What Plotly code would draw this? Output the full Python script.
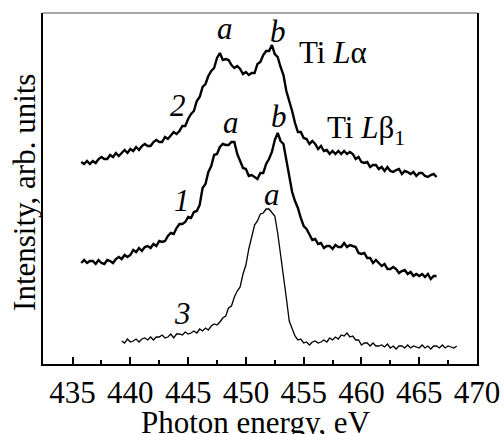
import numpy as np
import plotly.graph_objects as go

# Energy grids (eV)
energy_12 = np.arange(435.75, 466.5001, 0.25)
energy_3 = np.arange(439.25, 468.2501, 0.25)

# Curve 2 (Ti L-alpha, top), arb. units
curve2 = [202, 200, 203, 200, 203, 201, 205, 207, 205, 205,
          209, 207, 211, 208, 211, 214, 211, 215, 213, 217,
          214, 218, 220, 218, 218, 222, 224, 222, 222, 227,
          225, 229, 232, 230, 233, 238, 238, 245, 250, 253,
          263, 267, 277, 280, 288, 293, 296, 306, 311, 304,
          305, 304, 299, 296, 298, 295, 290, 292, 289, 291,
          291, 300, 302, 309, 313, 313, 319, 310, 307, 297,
          289, 273, 264, 253, 241, 232, 232, 226, 225, 220,
          223, 220, 215, 218, 213, 214, 210, 213, 210, 213,
          210, 213, 210, 212, 210, 205, 207, 202, 201, 202,
          197, 199, 199, 195, 197, 193, 197, 193, 192, 194,
          195, 190, 193, 192, 190, 192, 188, 191, 191, 188,
          187, 189, 190, 187]

# Curve 1 (Ti L-beta1, middle)
curve1 = [101, 104, 101, 103, 103, 100, 104, 101, 100, 104,
          103, 101, 105, 107, 105, 109, 107, 109, 114, 112,
          116, 113, 117, 118, 116, 120, 118, 123, 122, 123,
          128, 131, 130, 136, 140, 140, 142, 147, 146, 152,
          153, 159, 176, 180, 192, 198, 209, 210, 217, 220,
          219, 219, 222, 222, 210, 203, 196, 195, 188, 189,
          187, 185, 191, 191, 200, 205, 212, 224, 231, 223,
          220, 204, 192, 172, 163, 156, 146, 138, 135, 130,
          124, 125, 120, 121, 116, 118, 118, 115, 119, 117,
          117, 121, 117, 119, 118, 117, 111, 110, 111, 106,
          106, 101, 104, 101, 98, 100, 95, 95, 97, 95,
          91, 93, 94, 90, 92, 88, 90, 88, 90, 87,
          90, 85, 88, 88]

# Curve 3 (bottom)
curve3 = [23, 21, 25, 22, 23, 25, 22, 25, 26, 24, 27, 24, 27, 27, 29, 26, 27, 30, 26, 30,
          30, 29, 32, 30, 31, 33, 31, 35, 33, 36, 34, 38, 40, 39, 42, 46, 48, 56, 58, 67,
          73, 77, 90, 99, 115, 127, 139, 143, 150, 151, 155, 155, 152, 148, 131, 111, 87, 66, 43, 35,
          28, 24, 25, 21, 22, 19, 22, 23, 21, 22, 24, 22, 26, 24, 27, 25, 29, 28, 31, 27,
          28, 24, 24, 19, 21, 21, 18, 21, 18, 18, 19, 17, 20, 16, 18, 15, 18, 18, 16, 19,
          16, 18, 17, 16, 19, 16, 18, 15, 18, 18, 16, 19, 16, 18, 17, 16, 18]

x_ticks = [435, 440, 445, 450, 455, 460, 465, 470]

# Labels: (text, x, y)
labels = [
    ("<i>a</i>", 448.15, 336),
    ("<i>b</i>", 452.8, 333),
    ("Ti <i>L</i>α", 457.5, 312),
    ("<i>2</i>", 444.1, 259),
    ("<i>a</i>", 448.75, 242),
    ("<i>b</i>", 452.9, 248),
    ("Ti <i>L</i>β<sub>1</sub>", 460.4, 234),
    ("<i>1</i>", 444.45, 164),
    ("<i>a</i>", 452.3, 170),
    ("<i>3</i>", 444.55, 51),
]

x_title = "Photon energy, eV"
y_title = "Intensity, arb. units"

FONT = "Liberation Serif"

fig = go.Figure()
fig.add_trace(go.Scatter(x=energy_12, y=curve2, mode="lines",
                         line=dict(color="black", width=2.4), showlegend=False))
fig.add_trace(go.Scatter(x=energy_12, y=curve1, mode="lines",
                         line=dict(color="black", width=2.4), showlegend=False))
fig.add_trace(go.Scatter(x=energy_3, y=curve3, mode="lines",
                         line=dict(color="black", width=1.3), showlegend=False))

for text, x, y in labels:
    fig.add_annotation(x=x, y=y, text=text, showarrow=False,
                       font=dict(family=FONT, size=31, color="black"),
                       xanchor="center", yanchor="middle")

# axis titles as paper annotations
fig.add_annotation(x=0.49, y=-0.167, xref="paper", yref="paper", text=x_title,
                   showarrow=False, xanchor="center", yanchor="middle",
                   font=dict(family=FONT, size=31, color="black"))
fig.add_annotation(x=-0.044, y=0.49, xref="paper", yref="paper", text=y_title,
                   showarrow=False, xanchor="center", yanchor="middle", textangle=-90,
                   font=dict(family=FONT, size=31, color="black"))

# top border (light grey)
fig.add_shape(type="line", xref="paper", yref="paper", x0=0, x1=1, y0=1, y1=1,
              line=dict(color="#888888", width=1.5))

fig.update_layout(
    width=504, height=434,
    margin=dict(l=43, r=27, t=13, b=70, autoexpand=False),
    paper_bgcolor="white", plot_bgcolor="white",
    font=dict(family=FONT, size=31, color="black"),
    xaxis=dict(
        range=[432.44, 470], tickmode="array", tickvals=x_ticks,
        ticks="inside", ticklen=7, tickwidth=2, tickcolor="black",
        minor=dict(ticks="inside", ticklen=4, tickwidth=2, tickcolor="black", dtick=2.5, tick0=435),
        showline=True, linecolor="black", linewidth=2, mirror=False,
        showgrid=False, zeroline=False, automargin=False,
        tickfont=dict(family=FONT, size=31, color="black"),
    ),
    yaxis=dict(
        range=[0, 351], showticklabels=False, ticks="",
        showline=True, linecolor="black", linewidth=2, mirror=True,
        showgrid=False, zeroline=False, automargin=False,
    ),
)

fig.write_html("out.html", config={"displayModeBar": False},
               post_script="document.body.style.margin='0px';document.body.style.overflow='hidden';")
